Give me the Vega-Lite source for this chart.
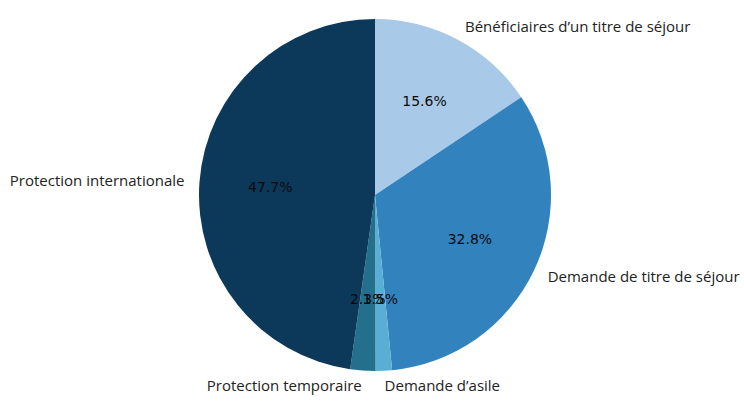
{
  "$schema": "https://vega.github.io/schema/vega-lite/v6.json",
  "width": 738,
  "height": 390,
  "autosize": {"type": "none"},
  "padding": {"left": 6, "top": 0, "right": 0, "bottom": 16},
  "background": "white",
  "view": {"stroke": null},
  "data": {
    "values": [
      {"order": 1, "category": "Bénéficiaires d’un titre de séjour", "value": 15.6, "pct": "15.6%", "side": "right"},
      {"order": 2, "category": "Demande de titre de séjour", "value": 32.8, "pct": "32.8%", "side": "right"},
      {"order": 3, "category": "Demande d’asile", "value": 1.5, "pct": "1.5%", "side": "right"},
      {"order": 4, "category": "Protection temporaire", "value": 2.3, "pct": "2.3%", "side": "left"},
      {"order": 5, "category": "Protection internationale", "value": 47.7, "pct": "47.7%", "side": "left"}
    ]
  },
  "encoding": {
    "theta": {"field": "value", "type": "quantitative", "stack": true},
    "order": {"field": "order", "type": "quantitative"}
  },
  "layer": [
    {
      "mark": {"type": "arc", "radius": 176},
      "encoding": {
        "color": {
          "field": "category",
          "type": "nominal",
          "sort": null,
          "scale": {
            "domain": ["Bénéficiaires d’un titre de séjour", "Demande de titre de séjour", "Demande d’asile", "Protection temporaire", "Protection internationale"],
            "range": ["#a8c9e7", "#3282bd", "#5aaed6", "#246f8b", "#0c3859"]
          },
          "legend": null
        }
      }
    },
    {
      "mark": {"type": "text", "radius": 105, "font": "DejaVu Sans", "fontSize": 14, "color": "#0a0a0a", "align": "center", "baseline": "middle"},
      "encoding": {"text": {"field": "pct", "type": "nominal"}}
    },
    {
      "mark": {"type": "text", "radius": 191, "font": "Open Sans", "fontSize": 15, "color": "#222222", "align": "left", "baseline": "middle"},
      "encoding": {
        "text": {"condition": {"test": "datum.side === 'right'", "field": "category"}, "value": ""}
      }
    },
    {
      "mark": {"type": "text", "radius": 191, "font": "Open Sans", "fontSize": 15, "color": "#222222", "align": "right", "baseline": "middle"},
      "encoding": {
        "text": {"condition": {"test": "datum.side === 'left'", "field": "category"}, "value": ""}
      }
    }
  ]
}
